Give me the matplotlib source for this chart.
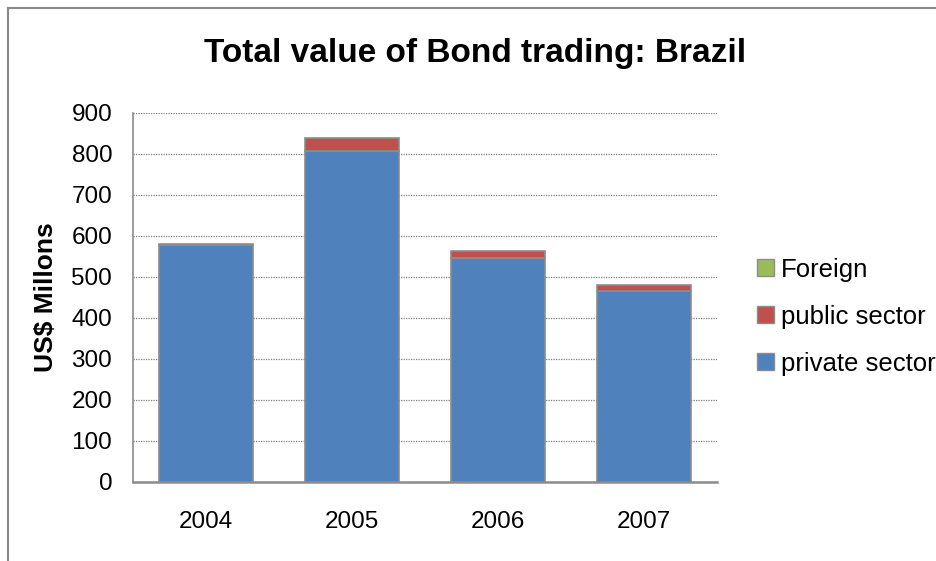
import matplotlib
matplotlib.use("Agg")
import matplotlib.pyplot as plt
import matplotlib.patches as mpatches
import matplotlib.lines as mlines
import numpy as np

years = ["2004", "2005", "2006", "2007"]
private_sector = [577, 807, 547, 465]
public_sector = [3, 31, 15, 16]
foreign = [0, 0, 0, 0]

blue = "#4F81BD"
red = "#C0504D"
green = "#9BBB59"
edge = "#8C8C8C"

plt.rcParams["font.family"] = ["Liberation Sans", "DejaVu Sans"]

fig = plt.figure(figsize=(9.37, 5.61), dpi=100)
ax = fig.add_axes([0.142, 0.141, 0.623, 0.658])

x = np.arange(len(years))
w = 0.64
ax.bar(x, private_sector, width=w, color=blue, edgecolor=edge, linewidth=1.2, zorder=3)
ax.bar(x, public_sector, width=w, bottom=private_sector, color=red, edgecolor=edge,
       linewidth=1.2, zorder=3)
bottom2 = [p + q for p, q in zip(private_sector, public_sector)]
ax.bar(x, foreign, width=w, bottom=bottom2, color=green, edgecolor=edge, linewidth=0, zorder=3)

ax.set_xlim(-0.5, len(years) - 0.5)
ax.set_ylim(0, 900)
ax.set_yticks(range(0, 901, 100))
ax.set_xticks(x)
ax.set_xticklabels(years)
ax.tick_params(axis="both", length=0, labelsize=17.5, colors="black")
ax.tick_params(axis="y", pad=15)
ax.tick_params(axis="x", pad=21)
ax.yaxis.grid(True, linestyle=(0, (1, 1)), color="#7F7F7F", linewidth=0.9, zorder=0)
ax.set_axisbelow(True)

for s in ["top", "right"]:
    ax.spines[s].set_visible(False)
ax.spines["left"].set_color("#8C8C8C")
ax.spines["bottom"].set_color("#8C8C8C")
ax.spines["left"].set_linewidth(1.2)
ax.spines["bottom"].set_linewidth(1.8)

ax.set_ylabel("US$ Millons", fontsize=19, fontweight="bold", labelpad=10)

fig.text(0.5075, 0.905, "Total value of Bond trading: Brazil", ha="center", va="center",
         fontsize=24, fontweight="bold")

handles = [
    mpatches.Patch(facecolor=green, edgecolor=edge, label="Foreign"),
    mpatches.Patch(facecolor=red, edgecolor=edge, label="public sector"),
    mpatches.Patch(facecolor=blue, edgecolor=edge, label="private sector"),
]
fig.legend(handles=handles, loc="center left", bbox_to_anchor=(0.797, 0.4355),
           frameon=False, fontsize=18.5, handlelength=0.66, handleheight=0.66,
           handletextpad=0.28, labelspacing=0.9, borderaxespad=0)

# outer chart border
fig.add_artist(mlines.Line2D([8 / 937, 1.0], [1 - 8 / 561, 1 - 8 / 561],
                             transform=fig.transFigure, color="#888888", linewidth=1.5))
fig.add_artist(mlines.Line2D([8 / 937, 8 / 937], [0, 1 - 8 / 561],
                             transform=fig.transFigure, color="#888888", linewidth=1.5))

fig.savefig("out.png", dpi=100, facecolor="white")
